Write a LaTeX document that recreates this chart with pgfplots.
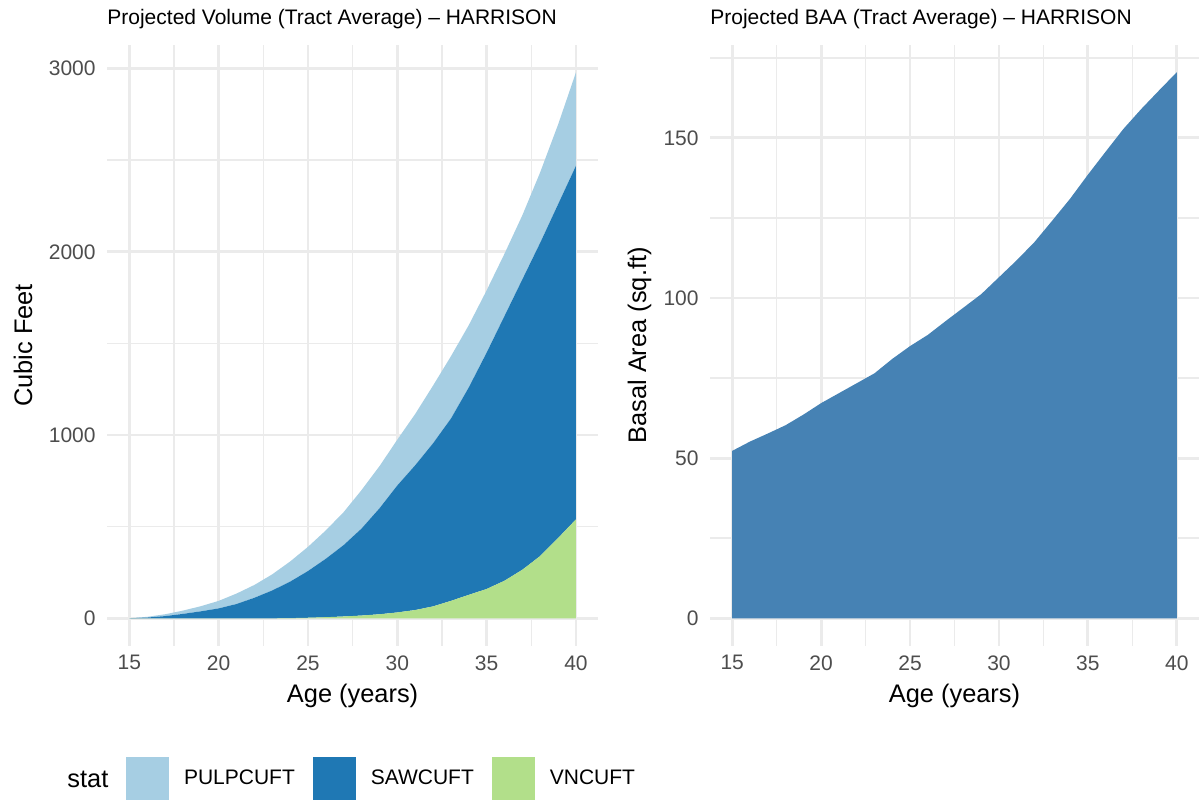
\documentclass[border=0pt]{standalone}
\usepackage{fontspec}
\setmainfont{Liberation Sans}
\usepackage{pgfplots}
\usepackage{pgfplotstable}
\pgfplotsset{compat=1.18}
\definecolor{pulp}{HTML}{A6CEE3}
\definecolor{saw}{HTML}{1F78B4}
\definecolor{vn}{HTML}{B2DF8A}
\definecolor{steel}{HTML}{4682B4}
\definecolor{gridc}{HTML}{EBEBEB}
\definecolor{tickc}{HTML}{4D4D4D}

\pgfplotstableread{
x vn saw pulp
15 0 0 0
16 0 4 4
17 0 12 10
18 0 24 18
19 0 38 28
20 0 54 41
21 0 78 57
22 0 112 70
23 0 152 88
24 1 199 110
25 3 255 132
26 6 319 155
27 10 390 180
28 15 475 210
29 22 578 230
30 32 693 250
31 45 790 280
32 65 890 315
33 95 995 340
34 128 1132 340
35 160 1290 340
36 205 1445 340
37 265 1585 350
38 340 1710 385
39 438 1822 435
40 540 1930 510
}\voltab

\pgfplotstableread{
x baa
15 52.3
16 55.2
17 57.7
18 60.3
19 63.6
20 67.2
21 70.3
22 73.4
23 76.5
24 81.0
25 85.0
26 88.5
27 92.8
28 97.0
29 101.2
30 106.5
31 111.8
32 117.5
33 124.2
34 131.0
35 138.5
36 145.7
37 152.8
38 159.0
39 164.8
40 170.5
}\baatab

\pgfplotsset{
  gg/.style={
    scale only axis,
    axis line style={draw=none},
    major tick length=0pt, minor tick length=0pt,
    tick style={draw=none},
    grid=both,
    major grid style={draw=gridc, line width=1.4bp},
    minor grid style={draw=gridc, line width=0.8bp},
    xmin=13.75, xmax=41.25,
    xtick={15,20,...,40},
    minor xtick={17.5,22.5,27.5,32.5,37.5},
    tick label style={font=\fontsize{10.5bp}{12bp}\selectfont, text=tickc, inner sep=0pt},
    xticklabel style={anchor=north, yshift=-4.75bp},
    yticklabel style={anchor=east, xshift=-5.5bp},
    /pgf/number format/assume math mode=true,
    /pgf/number format/1000 sep={},
    scaled ticks=false,
    height=300.3bp,
  }
}

\begin{document}
\begin{tikzpicture}
\useasboundingbox (0,0) rectangle (600bp,400bp);

\begin{axis}[gg,
  at={(53.5bp,77.2bp)}, anchor=south west,
  width=245.65bp,
  ymin=-149, ymax=3129,
  ytick={0,1000,2000,3000},
  minor ytick={500,1500,2500},
  stack plots=y,
  legend columns=-1,
  reverse legend,
  legend cell align=left,
  legend image code/.code={\fill[#1, draw=none] (0bp,-10.75bp) rectangle (21.5bp,10.75bp);},
  legend style={at={(rel axis cs:0.0387,-0.2213)}, anchor=west, draw=none, fill=none,
    inner sep=0pt, outer sep=0pt, font=\fontsize{10.5bp}{12bp}\selectfont,
    nodes={inner sep=0pt},
    /tikz/every odd column/.style={column sep=7.5bp},
    /tikz/every even column/.style={column sep=9bp}},
]
\addplot[fill=vn, draw=none] table[x=x, y=vn] {\voltab} \closedcycle;
\addlegendentry{VNCUFT}
\addplot[fill=saw, draw=none] table[x=x, y=saw] {\voltab} \closedcycle;
\addlegendentry{SAWCUFT}
\addplot[fill=pulp, draw=none] table[x=x, y=pulp] {\voltab} \closedcycle;
\addlegendentry{PULPCUFT}
\end{axis}

\begin{axis}[gg,
  at={(355bp,77.2bp)}, anchor=south west,
  width=244.5bp,
  ymin=-8.5, ymax=179.0,
  ytick={0,50,100,150},
  minor ytick={25,75,125,175},
]
\addplot[fill=steel, draw=none] table[x=x, y=baa] {\baatab} \closedcycle;
\end{axis}

\node[anchor=base west, inner sep=0pt, font=\fontsize{10.5bp}{12bp}\selectfont] at (53.5bp,387.5bp) {Projected Volume (Tract Average) – HARRISON};
\node[anchor=base west, inner sep=0pt, font=\fontsize{10.5bp}{12bp}\selectfont] at (355bp,387.5bp) {Projected BAA (Tract Average) – HARRISON};

\node[rotate=90, anchor=base, inner sep=0pt, font=\fontsize{12.7bp}{15bp}\selectfont] at (16bp,227.3bp) {Cubic Feet};
\node[rotate=90, anchor=base, inner sep=0pt, font=\fontsize{12.7bp}{15bp}\selectfont] at (323bp,227.3bp) {Basal Area (sq.ft)};

\node[anchor=base, inner sep=0pt, font=\fontsize{12.7bp}{15bp}\selectfont] at (176.3bp,48.5bp) {Age (years)};
\node[anchor=base, inner sep=0pt, font=\fontsize{12.7bp}{15bp}\selectfont] at (477.25bp,48.5bp) {Age (years)};

\node[anchor=west, inner sep=0pt, font=\fontsize{12.7bp}{15bp}\selectfont] at (33.5bp,10.5bp) {stat};
\end{tikzpicture}
\end{document}
